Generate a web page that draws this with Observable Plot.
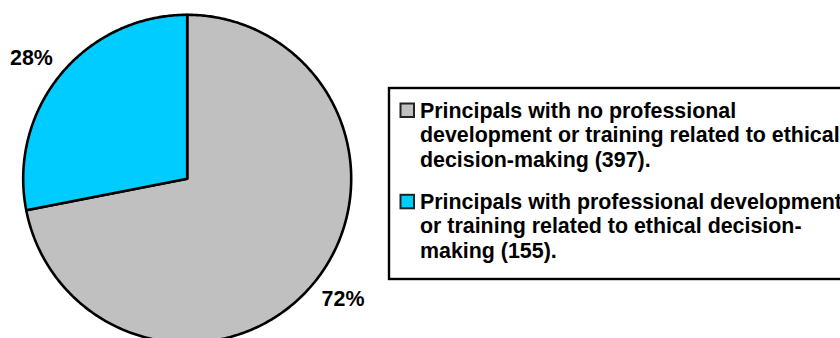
<!DOCTYPE html>
<html>
<head>
<meta charset="utf-8">
<script src="https://cdn.jsdelivr.net/npm/d3@7"></script>
<script src="https://cdn.jsdelivr.net/npm/@observablehq/plot@0.6"></script>
<style>
  html, body { margin: 0; padding: 0; background: #fff; }
  #chart { width: 840px; height: 338px; overflow: hidden; }
</style>
</head>
<body>
<div id="chart"></div>
<script>
// Principals by ethics-related professional development
const categories = [
  "Principals with no professional development or training related to ethical decision-making (397).",
  "Principals with professional development or training related to ethical decision-making (155)."
];
const counts = [397, 155];
const sliceColors = ["#C0C0C0", "#00CCFF"];
// legend text as wrapped lines
const legendLines = [
  ["Principals with no professional", "development or training related to ethical", "decision-making (397)."],
  ["Principals with professional development", "or training related to ethical decision-", "making (155)."]
];

// layout (pixels)
const W = 840, H = 338;
const cx = 186.7, cy = 178.3, R = 164;
const labelR = 197;
const labelTurn = -0.03;           // small angular nudge for the outside percent labels
const font = "'Liberation Sans', Arial, sans-serif";
const fs = 21.4;
const box = {x1: 389, x2: 870, y1: 88, y2: 279};
const itemTop = [117, 208.3];      // first baseline of each legend entry
const lineStep = 24.5;
const swatchX = 400.5, swatchSize = 13.5;
const textX = 419.5;

const rows = categories.map((name, i) => ({name, count: counts[i], color: sliceColors[i]}));
const total = d3.sum(counts);
const pct = d3.format(".0%");

// slices clockwise from 12 o'clock
const arcs = d3.pie().sort(null).value(d => d.count)(rows);
const px = a => cx + R * Math.sin(a);
const py = a => cy - R * Math.cos(a);

const outline = arcs.flatMap(p => {
  const n = Math.max(2, Math.ceil((p.endAngle - p.startAngle) / 0.01));
  const pts = [{name: p.data.name, x: cx, y: cy}];
  for (let k = 0; k <= n; ++k) {
    const a = p.startAngle + (p.endAngle - p.startAngle) * k / n;
    pts.push({name: p.data.name, x: px(a), y: py(a)});
  }
  return pts;
});

const pieLabels = arcs.map(p => {
  const a = (p.startAngle + p.endAngle) / 2 + labelTurn;
  return {text: pct(p.data.count / total), x: cx + labelR * Math.sin(a), y: cy - labelR * Math.cos(a)};
});

const legendText = legendLines.flatMap((lines, i) =>
  lines.map((t, j) => ({text: t, x: textX, y: itemTop[i] + j * lineStep}))
);
const swatches = rows.map((r, i) => ({
  name: r.name,
  x1: swatchX, x2: swatchX + swatchSize,
  y1: itemTop[i] - swatchSize, y2: itemTop[i]
}));

const chart = Plot.plot({
  width: W,
  height: H,
  margin: 0,
  x: {type: "identity", axis: null},
  y: {type: "identity", axis: null},
  color: {domain: categories, range: sliceColors},
  style: {fontFamily: font, background: "#fff"},
  marks: [
    Plot.line(outline, {
      x: "x", y: "y", z: "name", fill: "name",
      stroke: "#000", strokeWidth: 2.6, curve: "linear-closed", strokeLinejoin: "round"
    }),
    Plot.text(pieLabels, {
      x: "x", y: "y", text: "text",
      fontSize: fs, fontWeight: "bold", fill: "#000", textAnchor: "middle"
    }),
    Plot.rect([box], {x1: "x1", x2: "x2", y1: "y1", y2: "y2", fill: "#fff", stroke: "#000", strokeWidth: 2.4}),
    Plot.rect(swatches, {
      x1: "x1", x2: "x2", y1: "y1", y2: "y2", fill: "name",
      stroke: "#222", strokeWidth: 2
    }),
    Plot.text(legendText, {
      x: "x", y: "y", text: "text", textAnchor: "start", lineAnchor: "bottom",
      fontSize: fs, fontWeight: "bold", fill: "#000"
    })
  ]
});

document.getElementById("chart").append(chart);
</script>
</body>
</html>
